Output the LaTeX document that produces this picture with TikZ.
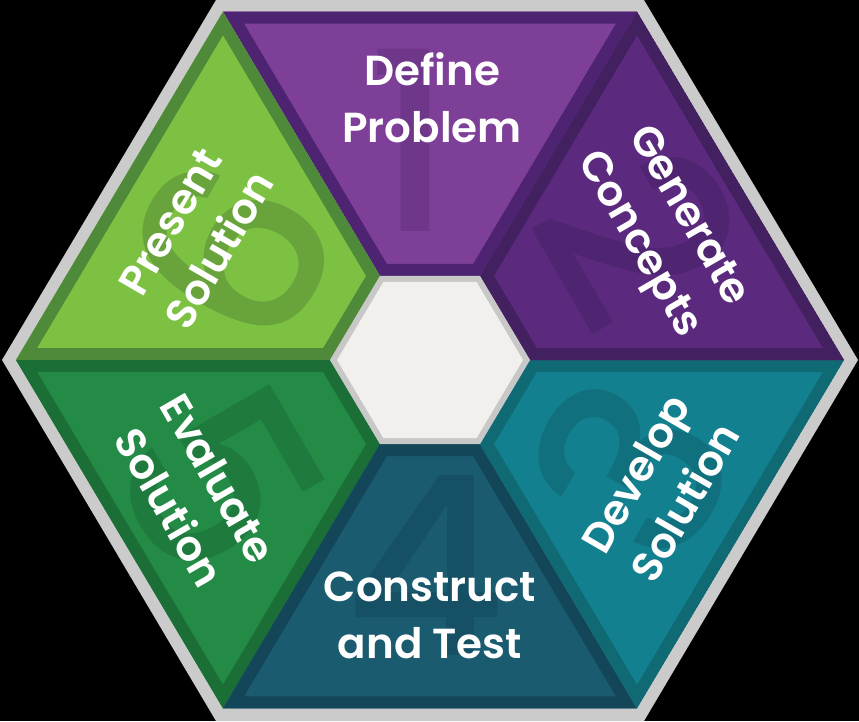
\documentclass[tikz,border=0pt]{standalone}
\usepackage{fontspec}
\newfontfamily\labfont{Poppins SemiBold}
\newfontfamily\numfont{Poppins Medium}
\definecolor{grayband}{HTML}{CBCBCB}
\definecolor{p1f}{HTML}{7E3F98}\definecolor{p1d}{HTML}{4E2472}\definecolor{p1n}{HTML}{6F378A}
\definecolor{p2f}{HTML}{5B2A7E}\definecolor{p2d}{HTML}{43205F}\definecolor{p2n}{HTML}{4F2470}
\definecolor{t3f}{HTML}{13808F}\definecolor{t3d}{HTML}{106A74}\definecolor{t3n}{HTML}{10707D}
\definecolor{b4f}{HTML}{1A5B6F}\definecolor{b4d}{HTML}{124658}\definecolor{b4n}{HTML}{165064}
\definecolor{g5f}{HTML}{238B45}\definecolor{g5d}{HTML}{1B6E36}\definecolor{g5n}{HTML}{1F7A3D}
\definecolor{l6f}{HTML}{7DC143}\definecolor{l6d}{HTML}{4F8A3A}\definecolor{l6n}{HTML}{69A33C}
\definecolor{hexf}{HTML}{F2F0EC}\definecolor{hexd}{HTML}{C8C8C8}
\tikzset{
  lab/.style={text=white, align=center, font=\labfont\fontsize{42}{57}\selectfont, inner sep=0pt},
  num/.style={font=\numfont\fontsize{250}{250}\selectfont, inner sep=0pt},
  band/.style={line width=24pt, line join=miter, miter limit=20}
}
\newcommand\sectorpaint[7]{%
  \begin{scope}
    \clip (#3)--(#4)--(#5)--(#6)--cycle;
    \fill[#1] (#3)--(#4)--(#5)--(#6)--cycle;
    #7
    \draw[#2, band] (#3)--(#4)--(#5)--(#6)--cycle;
  \end{scope}}
\begin{document}
\begin{tikzpicture}[x=1pt, y=-1pt]
  \fill[black] (0,0) rectangle (859,721);
  \useasboundingbox (0,0) rectangle (859,721);
  % outer gray hexagon
  \coordinate (G0) at (858,360); \coordinate (G1) at (644,0);
  \coordinate (G2) at (216,0);   \coordinate (G3) at (2,360);
  \coordinate (G4) at (216,721); \coordinate (G5) at (644,721);
  \fill[grayband] (G0)--(G1)--(G2)--(G3)--(G4)--(G5)--cycle;
  % sector outer vertices
  \coordinate (O0) at (844,360);   \coordinate (O1) at (637,11.7);
  \coordinate (O2) at (223,11.7);  \coordinate (O3) at (16,360);
  \coordinate (O4) at (223,708.3); \coordinate (O5) at (637,708.3);
  % sector inner vertices
  \coordinate (I0) at (530,360);   \coordinate (I1) at (480,275.9);
  \coordinate (I2) at (380,275.9); \coordinate (I3) at (330,360);
  \coordinate (I4) at (380,444.1); \coordinate (I5) at (480,444.1);
  % sectors
  \sectorpaint{p1f}{p1d}{O1}{O2}{I2}{I1}{\node[num, text=p1n] (n1) at (410,140) {1};}
  \sectorpaint{l6f}{l6d}{O2}{O3}{I3}{I2}{\node[num, text=l6n, rotate=60] (n6) at (232,250) {6};}
  \sectorpaint{g5f}{g5d}{O3}{O4}{I4}{I3}{\node[num, text=g5n, rotate=-60] (n5) at (220,480) {5};}
  \sectorpaint{b4f}{b4d}{O4}{O5}{I5}{I4}{\node[num, text=b4n] (n4) at (425,565) {4};}
  \sectorpaint{t3f}{t3d}{O5}{O0}{I0}{I5}{\node[num, text=t3n, rotate=60] (n3) at (630,468) {3};}
  \sectorpaint{p2f}{p2d}{O0}{O1}{I1}{I0}{\node[num, text=p2n, rotate=-60] (n2) at (640,235) {2};}
  % central hexagon
  \fill[hexd] (I0)--(I1)--(I2)--(I3)--(I4)--(I5)--cycle;
  \coordinate (C0) at (523,360);   \coordinate (C1) at (476.5,281.8);
  \coordinate (C2) at (383.5,281.8); \coordinate (C3) at (337,360);
  \coordinate (C4) at (383.5,438.2); \coordinate (C5) at (476.5,438.2);
  \fill[hexf] (C0)--(C1)--(C2)--(C3)--(C4)--(C5)--cycle;
  % labels
  \node[lab] (t1) at (432,98) {Define\\Problem};
  \node[lab, rotate=-60] (t2) at (662,231) {Generate\\Concepts};
  \node[lab, rotate=60] (t3) at (660,488) {Develop\\Solution};
  \node[lab] (t4) at (430,615) {Construct\\and Test};
  \node[lab, rotate=-60] (t5) at (194,493) {Evaluate\\Solution};
  \node[lab, rotate=60] (t6) at (195,236) {Present\\Solution};
\end{tikzpicture}
\end{document}
